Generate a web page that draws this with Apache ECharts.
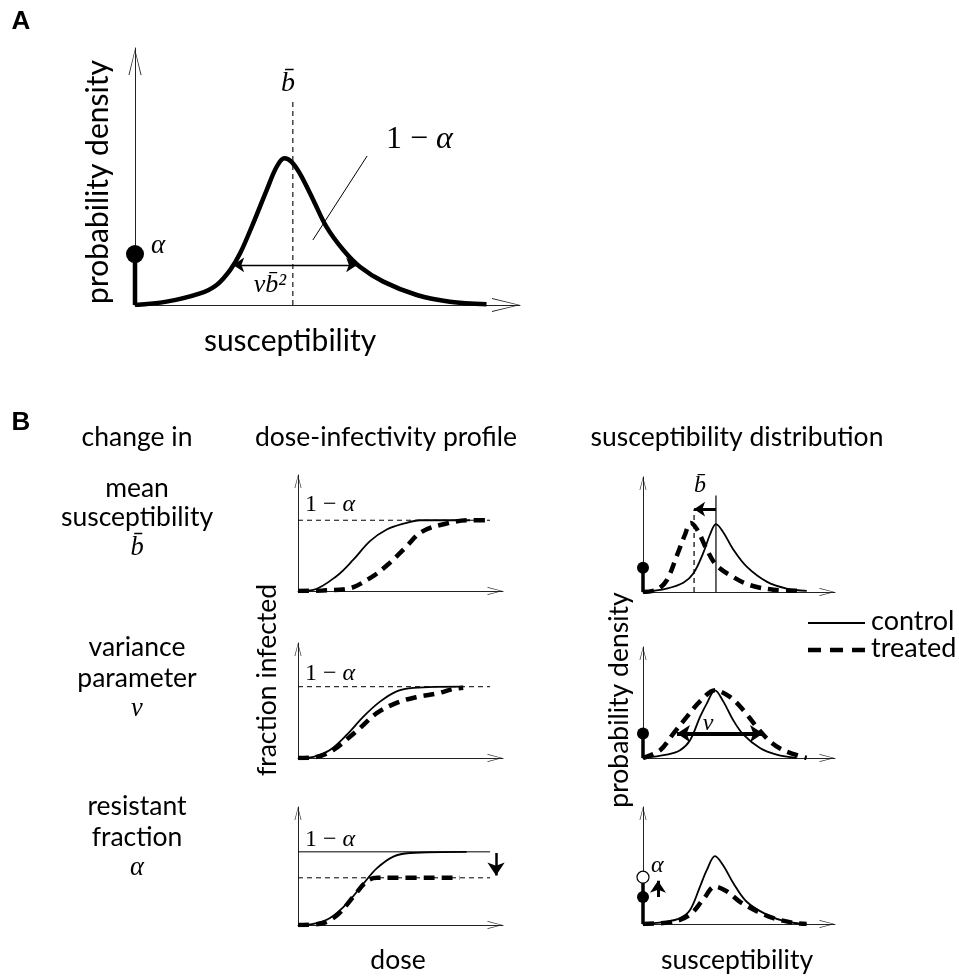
<!DOCTYPE html>
<html>
<head>
<meta charset="utf-8">
<script src="https://cdn.jsdelivr.net/npm/echarts@6/dist/echarts.min.js"></script>
<style>
  html, body { margin: 0; background: #fff; }
  #chart { width: 959px; height: 977px; }
</style>
</head>
<body>
<div id="chart"></div>
<script>
// ---------- data (arbitrary units) ----------
// panel A: susceptibility (0-100) vs probability density (0-100)
const aCurve = [[0, 0], [8.2, 1.3], [16.9, 4.5], [21.2, 7.8], [24.7, 13.6], [27.3, 20.1], [30.7, 31.8],
  [34.2, 44.7], [36.8, 53.8], [38.8, 57.1], [40.6, 55.8], [42.8, 51.2], [46.3, 40.9], [49.7, 30.5],
  [54.1, 21.4], [58.4, 14.9], [64.5, 9.1], [73.2, 3.9], [81.8, 1.3], [91.3, 0.3]];
const aMean = [[41, 0], [41, 79.8]];
const aAlpha = [[0, 0], [0, 19.8]];
const aSpread = [[25.5, 15.6], [57.7, 15.6]];
const aLeader = [[46.2, 25.3], [60.3, 58.0]];

// panel B, dose-infectivity (dose 0-100, fraction infected 0-1)
const doseCtrl1 = [[0, 0], [7.5, 0.01], [18.9, 0.13], [27, 0.27], [35.1, 0.43], [43.3, 0.53], [51.4, 0.58], [59.5, 0.61], [83.9, 0.61]];
const doseTrt1 = [[0, 0], [12, 0.005], [24.5, 0.02], [35.9, 0.12], [44, 0.23], [52.2, 0.37], [60.3, 0.51], [72, 0.58], [83.3, 0.61], [92.7, 0.61]];
const doseCtrl2 = [[0, 0], [7.5, 0.01], [15.6, 0.07], [23.7, 0.2], [31.9, 0.36], [40, 0.49], [48.1, 0.58], [56.3, 0.61], [80.6, 0.62]];
const doseTrt2 = [[0, 0], [9.1, 0.01], [17.2, 0.07], [23.7, 0.16], [30.2, 0.26], [38.4, 0.39], [48.1, 0.48], [57.9, 0.53], [67.6, 0.56], [75.8, 0.6], [80.6, 0.61]];
const doseCtrl3 = [[0, 0], [7.5, 0.01], [15.6, 0.06], [23.7, 0.18], [31.9, 0.35], [38.4, 0.48], [46.5, 0.58], [54.6, 0.61], [82.3, 0.62]];
const doseTrt3 = [[0, 0], [10.7, 0.01], [18.9, 0.08], [27, 0.24], [33.5, 0.37], [38.4, 0.4], [44.9, 0.4], [79, 0.4]];
const plateau = [0.61, 0.62, 0.62];
const plateauLow = 0.40;
const plateauEnd = 93.7;
const dropArrow = [[96.6, 0.61], [96.6, 0.42]];

// panel B, susceptibility distribution (susceptibility 0-100, density 0-1)
const densCtrl1 = [[0, 0], [12.3, 0.03], [21, 0.08], [26.2, 0.16], [31.4, 0.34], [34.9, 0.5], [38, 0.59], [41.8, 0.52], [47, 0.37], [54, 0.22], [64.4, 0.09], [74.8, 0.03], [85.3, 0.01]];
const densTrt1 = [[0, 0], [7.1, 0.02], [12.3, 0.1], [17.5, 0.31], [21.9, 0.5], [24.8, 0.6], [28.3, 0.54], [33.2, 0.37], [38.4, 0.23], [47, 0.13], [55.7, 0.06], [67.9, 0.02], [83.5, 0.01]];
const densCtrl2 = [[0, 0], [12.3, 0.03], [19.3, 0.07], [24.5, 0.16], [29.7, 0.37], [33.2, 0.49], [37.5, 0.61], [41.8, 0.51], [47, 0.34], [52.3, 0.21], [60.9, 0.09], [69.6, 0.03], [80, 0]];
const densTrt2 = [[0, 0], [8.9, 0.07], [15.8, 0.22], [22.8, 0.37], [29.7, 0.51], [37.5, 0.61], [45.3, 0.55], [52.3, 0.43], [59.2, 0.28], [66.1, 0.15], [73.1, 0.07], [85.2, 0]];
const densCtrl3 = [[0, 0], [12.3, 0.02], [19.3, 0.05], [24.5, 0.12], [29.7, 0.32], [33.2, 0.46], [37.5, 0.58], [41.8, 0.5], [47, 0.35], [54, 0.19], [64.4, 0.08], [74.8, 0.02], [85.2, 0]];
const densTrt3 = [[0, 0], [15.8, 0.02], [24.5, 0.08], [31.4, 0.21], [37.5, 0.32], [43.6, 0.28], [50.5, 0.19], [59.2, 0.11], [67.9, 0.05], [78.3, 0.01], [85.2, 0]];
const densAlpha = [0.21, 0.22, 0.23];
const densAlphaUp = 0.40;
const meanCtrl = [[38, 0], [38, 0.84]];
const meanTrt = [[26.6, 0], [26.6, 0.72]];
const meanShift = [[38, 0.72], [26.6, 0.72]];
const spreadArrow = [[17.7, 0.22], [62.5, 0.22]];
const alphaArrow = [[7.8, 0.23], [7.8, 0.37]];

// ---------- layout ----------
const grids = [
  { left: 135, top: 48, width: 385, height: 257 },   // A
  { left: 298, top: 475, width: 205, height: 116 },  // dose row 1
  { left: 298, top: 643, width: 205, height: 115 },  // dose row 2
  { left: 298, top: 807, width: 205, height: 118 },  // dose row 3
  { left: 643, top: 477, width: 192, height: 115 },  // density row 1
  { left: 643, top: 647, width: 192, height: 111 },  // density row 2
  { left: 643, top: 807, width: 192, height: 117 }   // density row 3
];

const SANS = 'Lato';
const SERIF = 'Liberation Serif';
const ARROW_A = 'path://M7,0 L14,28 L13,28 L7,2.5 L1,28 L0,28 Z';
const ARROW_B = 'path://M4,0 L8,15 L7.2,15 L4,2 L0.8,15 L0,15 Z';

function axis(g, max, arrow, size) {
  return {
    type: 'value', gridIndex: g, min: 0, max: max,
    axisLine: {
      show: true, onZero: false, symbol: ['none', arrow], symbolSize: size,
      symbolOffset: [0, -size[1] / 2], lineStyle: { color: '#222', width: 1 }
    },
    axisTick: { show: false }, axisLabel: { show: false }, splitLine: { show: false }
  };
}

function curve(name, g, data, dashed, width) {
  return {
    type: 'line', name: name, xAxisIndex: g, yAxisIndex: g, data: data,
    smooth: 0.35, symbol: 'none', z: dashed ? 4 : 3,
    lineStyle: { color: '#000', width: width, type: dashed ? [11, 7] : 'solid', cap: 'butt' }
  };
}

function seg(g, data, width, dashed) {
  return {
    type: 'line', xAxisIndex: g, yAxisIndex: g, data: data, symbol: 'none', z: 2,
    lineStyle: { color: '#000', width: width, type: dashed ? [5, 4] : 'solid' }
  };
}

function arrow(g, pts, width, size, both) {
  return {
    type: 'lines', coordinateSystem: 'cartesian2d', xAxisIndex: g, yAxisIndex: g,
    symbol: [both ? 'arrow' : 'none', 'arrow'], symbolSize: size, z: 5, silent: true,
    lineStyle: { color: '#000', width: width, opacity: 1 },
    data: [{ coords: pts }]
  };
}

function dot(g, y, size, open) {
  return {
    type: 'scatter', xAxisIndex: g, yAxisIndex: g, data: [[0, y]], symbolSize: size, z: 6,
    itemStyle: open ? { color: '#fff', borderColor: '#000', borderWidth: 1.2, opacity: 1 } : { color: '#000', opacity: 1 }
  };
}

const xAxes = [], yAxes = [];
grids.forEach(function (gr, i) {
  const isA = i === 0;
  xAxes.push(axis(i, 100, isA ? ARROW_A : ARROW_B, isA ? [14, 28] : [8, 16]));
  yAxes.push(axis(i, isA ? 100 : 1, isA ? ARROW_A : ARROW_B, isA ? [13, 28] : [7, 13]));
});

const series = [
  // A
  seg(0, aMean, 1.1, true),
  seg(0, aLeader, 1, false),
  arrow(0, aSpread, 1.4, 11, true),
  { type: 'line', xAxisIndex: 0, yAxisIndex: 0, data: aAlpha, symbol: 'none', z: 4, lineStyle: { color: '#000', width: 4.5 } },
  curve('control', 0, aCurve, false, 4.5),
  dot(0, aAlpha[1][1], 18, false),

  // dose-infectivity
  seg(1, [[0, plateau[0]], [plateauEnd, plateau[0]]], 1, true),
  curve('control', 1, doseCtrl1, false, 1.8),
  curve('treated', 1, doseTrt1, true, 4.5),
  seg(2, [[0, plateau[1]], [plateauEnd, plateau[1]]], 1, true),
  curve('control', 2, doseCtrl2, false, 1.8),
  curve('treated', 2, doseTrt2, true, 4.5),
  seg(3, [[0, plateau[2]], [plateauEnd, plateau[2]]], 1, false),
  seg(3, [[0, plateauLow], [plateauEnd, plateauLow]], 1, true),
  curve('control', 3, doseCtrl3, false, 1.8),
  curve('treated', 3, doseTrt3, true, 4.5),
  arrow(3, dropArrow, 2.5, 13, false),

  // susceptibility distributions
  seg(4, meanCtrl, 1.2, false),
  seg(4, meanTrt, 1.2, true),
  arrow(4, meanShift, 3, 11, false),
  curve('control', 4, densCtrl1, false, 1.8),
  curve('treated', 4, densTrt1, true, 4.5),
  seg(4, [[0, 0], [0, densAlpha[0]]], 3.5, false),
  dot(4, densAlpha[0], 12, false),

  curve('control', 5, densCtrl2, false, 1.8),
  curve('treated', 5, densTrt2, true, 4.5),
  arrow(5, spreadArrow, 4, 13, true),
  seg(5, [[0, 0], [0, densAlpha[1]]], 3.5, false),
  dot(5, densAlpha[1], 12, false),

  curve('control', 6, densCtrl3, false, 1.8),
  curve('treated', 6, densTrt3, true, 4.5),
  seg(6, [[0, 0], [0, densAlphaUp]], 3.5, false),
  arrow(6, alphaArrow, 3, 12, false),
  dot(6, densAlpha[2], 12, false),
  dot(6, densAlphaUp, 12, true)
];

function txt(x, y, text, size, opts) {
  opts = opts || {};
  return {
    type: 'text', x: x, y: y, rotation: opts.rot || 0, z: 10,
    style: {
      text: text, fill: '#000',
      fontSize: size, fontFamily: opts.family || SANS,
      fontStyle: opts.style || 'normal', fontWeight: opts.weight || 'normal',
      align: opts.align || 'center', verticalAlign: 'middle', rich: opts.rich
    }
  };
}

function oneMinusAlpha(x, y, size) {
  return txt(x, y, '{n|1 − }{a|α}', size, {
    align: 'left', family: SERIF,
    rich: {
      n: { fontFamily: SERIF, fontSize: size },
      a: { fontFamily: SERIF, fontStyle: 'italic', fontSize: size }
    }
  });
}
const ital = { style: 'italic', family: SERIF };
const B = 26.5;

const graphics = [
  txt(21, 22, 'A', 26, { weight: 'bold', family: 'Liberation Sans' }),
  txt(98, 182, 'probability density', 30, { rot: Math.PI / 2 }),
  txt(290, 341, 'susceptibility', 30),
  txt(288, 84, 'b\u0304', 28, ital),
  oneMinusAlpha(386, 140, 32),
  txt(151, 246, 'α', 27, { style: 'italic', family: SERIF, align: 'left' }),
  txt(270, 285, 'vb\u0304²', 26, ital),

  txt(21, 423, 'B', 26, { weight: 'bold', family: 'Liberation Sans' }),
  txt(137, 437, 'change in', B),
  txt(386, 437, 'dose-infectivity profile', B),
  txt(737, 437, 'susceptibility distribution', B),
  txt(137, 488, 'mean', B),
  txt(137, 517, 'susceptibility', B),
  txt(137, 548, 'b\u0304', B, ital),
  txt(137, 647, 'variance', B),
  txt(137, 678, 'parameter', B),
  txt(137, 709, 'v', B, ital),
  txt(137, 806, 'resistant', B),
  txt(137, 837, 'fraction', B),
  txt(137, 868, 'α', B, ital),
  txt(267, 680, 'fraction infected', B, { rot: Math.PI / 2 }),
  txt(619, 700, 'probability density', B, { rot: Math.PI / 2 }),
  txt(398, 960, 'dose', B),
  txt(737, 960, 'susceptibility', B),
  oneMinusAlpha(305, 505, 24),
  oneMinusAlpha(305, 674, 24),
  oneMinusAlpha(305, 840, 24),
  txt(700, 486, 'b\u0304', 24, ital),
  txt(708, 724, 'v', 24, ital),
  txt(651, 866, 'α', 24, { style: 'italic', family: SERIF, align: 'left' }),

  // legend
  { type: 'line', shape: { x1: 808, y1: 623, x2: 865, y2: 623 }, style: { stroke: '#000', lineWidth: 2 } },
  { type: 'line', shape: { x1: 808, y1: 650, x2: 865, y2: 650 }, style: { stroke: '#000', lineWidth: 4.5, lineDash: [13, 9] } },
  txt(871, 621, 'control', 27, { align: 'left' }),
  txt(871, 648, 'treated', 27, { align: 'left' })
];

const chart = echarts.init(document.getElementById('chart'));
chart.setOption({
  animation: false,
  backgroundColor: '#fff',
  grid: grids,
  xAxis: xAxes,
  yAxis: yAxes,
  series: series,
  graphic: graphics
});
</script>
</body>
</html>
